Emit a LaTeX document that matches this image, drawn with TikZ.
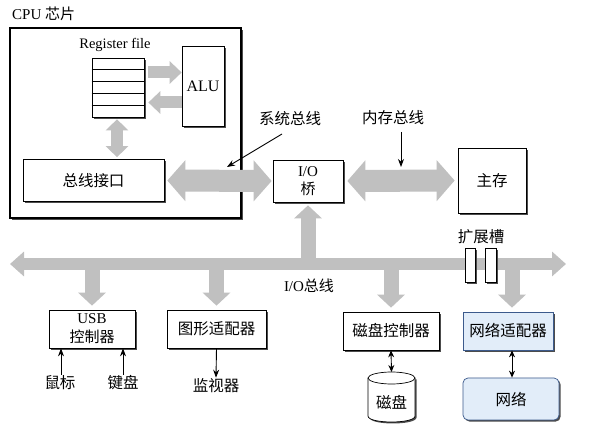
\documentclass[tikz,border=0pt]{standalone}
\usepackage{fontspec}
\setmainfont{Liberation Serif}
\newfontfamily\cjk{Noto Sans CJK SC}
\usetikzlibrary{arrows.meta,shadows,calc}
\definecolor{busgray}{RGB}{192,192,192}
\definecolor{lblue}{RGB}{226,237,249}
\definecolor{dblue}{RGB}{60,90,140}
\begin{document}
\begin{tikzpicture}[x=1pt,y=-1pt,
  box/.style={draw, fill=white, line width=0.7pt, inner sep=0pt,
    drop shadow={shadow xshift=1.6pt, shadow yshift=-1.6pt, opacity=1, fill=black!70}},
  bluebox/.style={box, fill=lblue, draw=dblue},
  zh/.style={font=\cjk\fontsize{15.5}{18}\selectfont},
  en/.style={font=\fontsize{15}{18}\selectfont},
  lab/.style={inner sep=1pt},
  fatbig/.style={line width=22pt, draw=busgray,
    arrows={Triangle[width=40pt,length=18pt]-Triangle[width=40pt,length=18pt]}},
  fatreg/.style={line width=12pt, draw=busgray,
    arrows={-Triangle[width=22pt,length=12pt]}},
  fatregd/.style={line width=12pt, draw=busgray,
    arrows={Triangle[width=22pt,length=11pt]-Triangle[width=22pt,length=11pt]}},
  fatbus/.style={line width=12pt, draw=busgray,
    arrows={Triangle[width=24pt,length=14pt]-Triangle[width=24pt,length=14pt]}},
  fatdown/.style={line width=15pt, draw=busgray,
    arrows={-Triangle[width=27pt,length=13pt]}},
  thin/.style={line width=0.9pt, -{Stealth[length=8pt,width=6pt]}},
  thind/.style={line width=0.9pt, {Stealth[length=7pt,width=6pt]}-{Stealth[length=7pt,width=6pt]}}
]
\fill[white] (0,0) rectangle (595,430);
\useasboundingbox (0,0) rectangle (595,430);

% CPU chip
\node[anchor=west, lab, font=\fontsize{15}{17}\selectfont] (cpulab) at (11,14) {CPU {\cjk 芯片}};
\node[box, line width=1.3pt, minimum width=231pt, minimum height=190pt] (cpu) at (125.5,123) {};

\node[lab, font=\fontsize{14.5}{17}\selectfont] (rflab) at (115,45) {Register file};
\node[box, minimum width=52pt, minimum height=59pt] (rf) at (118,87.5) {};
\foreach \k in {1,...,4}
  \draw[line width=0.7pt] ($(rf.north west)!\k/5!(rf.south west)$) -- ($(rf.north east)!\k/5!(rf.south east)$);
\node[box, font=\fontsize{16}{18}\selectfont, minimum width=42pt, minimum height=80pt] (alu) at (203,86) {ALU};
\node[box, zh, minimum width=141pt, minimum height=42pt] (busif) at (93.5,180.5) {总线接口};

% bridge and memory
\node[box, en, align=center, minimum width=70pt, minimum height=42pt] (bridge) at (308,181) {I/O\\{\cjk 桥}};
\node[box, zh, minimum width=68pt, minimum height=65pt] (mem) at (492,180.5) {主存};

% register arrows
\draw[fatreg] ([xshift=4pt,yshift=15pt]rf.east) -- ([yshift=15pt]rf.east -| alu.west);
\draw[fatreg] ([yshift=-15pt]rf.east -| alu.west) -- ([xshift=4pt,yshift=-15pt]rf.east);
\draw[fatregd, shorten <=2pt, shorten >=2pt] ([xshift=-1pt]rf.south) -- ([xshift=-1pt]rf.south |- busif.north);

% system bus and memory bus
\draw[fatbig, shorten <=3pt, shorten >=1pt] (busif.east) -- (bridge.west);
\draw[fatbig, shorten <=4pt, shorten >=3pt] (bridge.east) -- (mem.west);

\node[lab, zh] (syslab) at (290,119) {系统总线};
\coordinate (sysfrom) at (282,134);
\coordinate (systo) at (227,167);
\draw[thin] (sysfrom) -- (systo);
\node[lab, zh] (memlab) at (393,118) {内存总线};
\coordinate (memfrom) at (401,132);
\coordinate (memto) at (401,167);
\draw[thin] (memfrom) -- (memto);

% I/O bus
\coordinate (busL) at (10,264);
\coordinate (busR) at (566,264);
\draw[fatbus] (busL) -- (busR);
\draw[fatdown, shorten >=3pt] (bridge.south |- busL) -- (bridge.south);
\node[lab, en] (iolab) at (309,286) {I/O{\cjk 总线}};

% expansion slots
\node[lab, zh] (slotlab) at (481,237) {扩展槽};
\node[box, minimum width=10pt, minimum height=34pt] (slot1) at (470,265) {};
\node[box, minimum width=11pt, minimum height=34pt] (slot2) at (491,265) {};

% devices
\node[box, align=center, font=\fontsize{15}{19}\selectfont, minimum width=86pt, minimum height=38pt] (usb) at (92,329) {USB\\{\cjk 控制器}};
\node[box, zh, minimum width=99pt, minimum height=38pt] (gfx) at (216.5,329) {图形适配器};
\node[box, zh, minimum width=96pt, minimum height=38pt] (diskc) at (391,331) {磁盘控制器};
\node[bluebox, zh, minimum width=90pt, minimum height=38pt] (netad) at (508,331) {网络适配器};

\draw[fatdown, shorten >=4pt] (usb.north |- busL) -- (usb.north);
\draw[fatdown, shorten >=4pt] (gfx.north |- busL) -- (gfx.north);
\draw[fatdown, shorten >=4pt] (diskc.north |- busL) -- (diskc.north);
\draw[fatdown, shorten >=4pt] ([xshift=4pt]netad.north |- busL) -- ([xshift=4pt]netad.north);

% usb peripherals
\node[lab, zh] (mouse) at (60,383) {鼠标};
\node[lab, zh] (kbd) at (123,383) {键盘};
\draw[thin] (mouse.north -| 61,0) -- (61,0 |- usb.south);
\draw[thin] (kbd.north) -- (kbd.north |- usb.south);

\node[lab, zh] (mon) at (216,386) {监视器};
\draw[thin] (gfx.south) -- (mon.north);

% disk
\fill[black!70] (369.5,379.5) -- (369.5,417.5) .. controls (369.5,425.5) and (416.5,425.5) .. (416.5,417.5) -- (416.5,379.5) -- cycle;
\fill[white] (368,378) -- (368,416) .. controls (368,424) and (415,424) .. (415,416) -- (415,378) -- cycle;
\draw[line width=0.7pt] (368,378) -- (368,416) .. controls (368,424) and (415,424) .. (415,416) -- (415,378);
\draw[line width=0.7pt, fill=white] (391.5,378) ellipse[x radius=23.5, y radius=6];
\node[lab, zh] (disk) at (391.5,402) {磁盘};
\coordinate (disktop) at (391.5,372);
\draw[thind] (diskc.south) -- (disktop);

% network
\node[bluebox, zh, rounded corners=5pt, minimum width=96pt, minimum height=42pt] (net) at (511,399) {网络};
\draw[thind] ([xshift=4pt]netad.south) -- ([xshift=4pt]netad.south |- net.north);
\end{tikzpicture}
\end{document}
